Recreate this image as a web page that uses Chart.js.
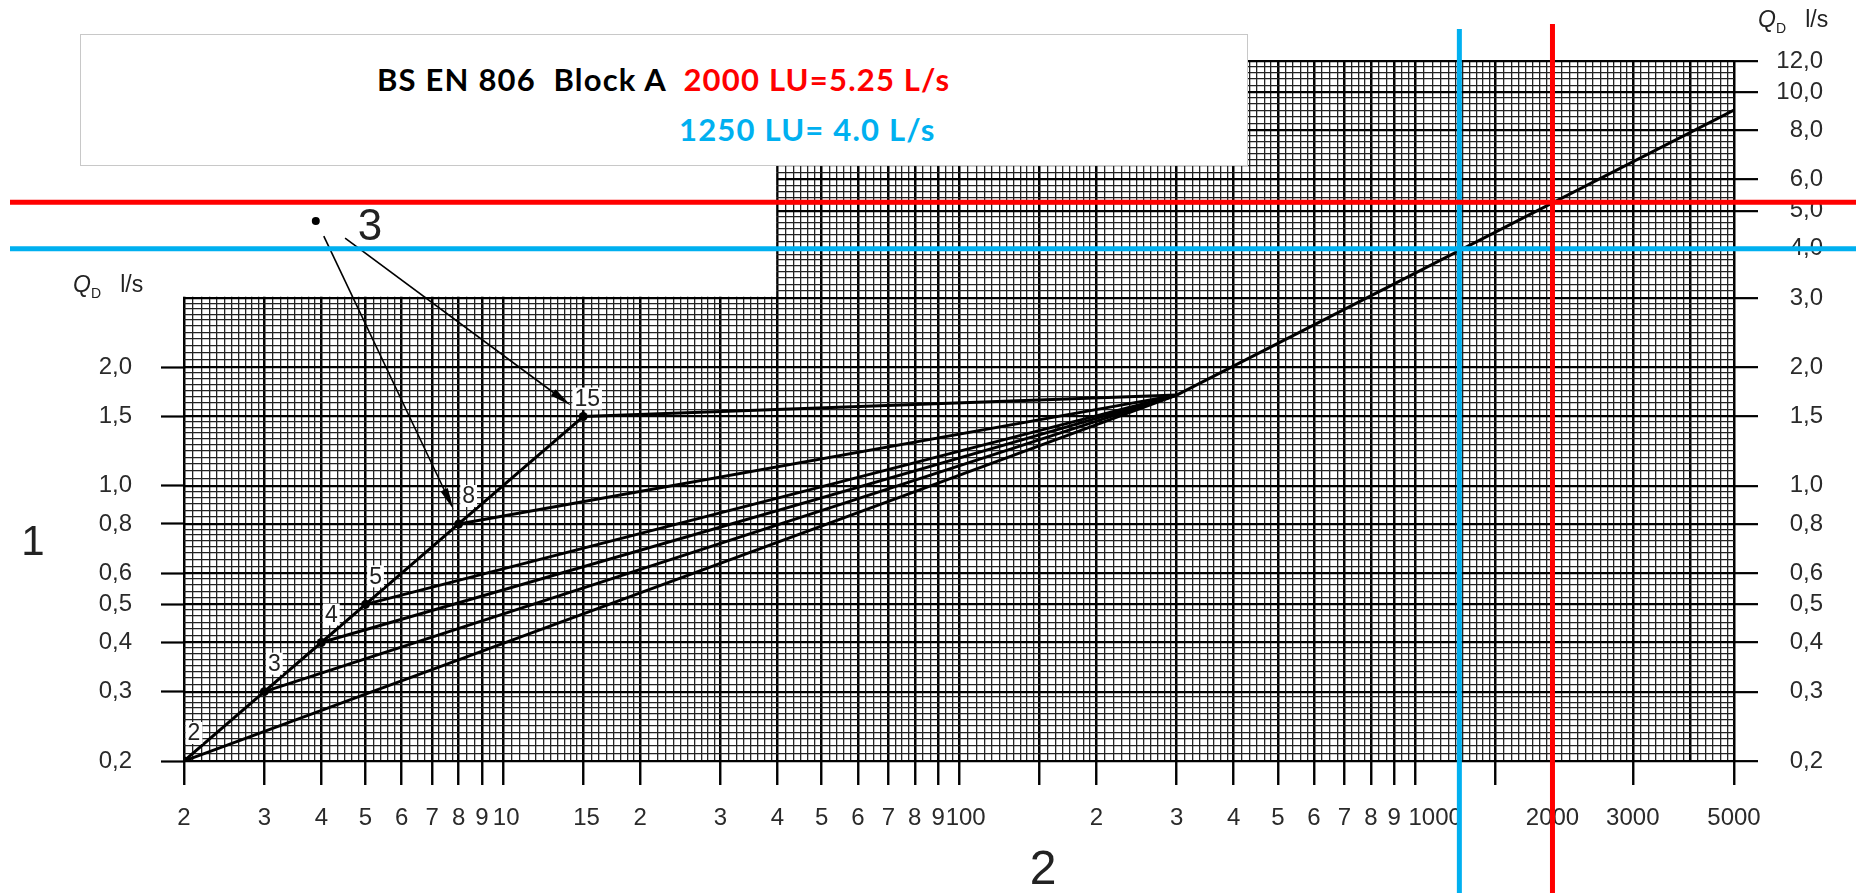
<!DOCTYPE html>
<html>
<head>
<meta charset="utf-8">
<script src="https://cdn.jsdelivr.net/npm/chart.js@4.4.1/dist/chart.umd.min.js"></script>
<style>
  html, body { margin: 0; padding: 0; background: #fff; }
  #wrap { position: relative; width: 1865px; height: 893px; overflow: hidden; }
  #chart { position: absolute; left: 0; top: 0; }
  .note { position: absolute; font-family: 'Liberation Sans', Arial, sans-serif; color: #222; white-space: pre; line-height: 1; }
  .big { transform: translate(-50%, -50%); }
  #titleBox { position: absolute; left: 80px; top: 34px; width: 1166px; height: 130px; background: #fff; border: 1.5px solid #c8c8c8; }
  .tline { position: absolute; font-family: Lato, 'Open Sans', sans-serif; font-weight: 700; font-size: 31px; letter-spacing: 1.2px; white-space: pre; line-height: 1; }
</style>
</head>
<body>
<div id="wrap">
  <canvas id="chart" width="1865" height="893"></canvas>
  <div id="titleBox">
    <div class="tline" style="left:296px; top:29px; color:#000">BS EN 806  Block A  <span style="color:#ff0000">2000 LU=5.25 L/s</span></div>
    <div class="tline" style="left:598px; top:79px; color:#00b0f0">1250 LU= 4.0 L/s</div>
  </div>
  <div class="note" style="left:73px; top:273px; font-size:23px"><i>Q</i><span style="font-size:14px; position:relative; top:6px">D</span>   l/s</div>
  <div class="note" style="left:1758px; top:8px; font-size:23px"><i>Q</i><span style="font-size:14px; position:relative; top:6px">D</span>   l/s</div>
  <div class="note big" style="left:370px; top:225px; font-size:44px">3</div>
  <div class="note big" style="left:33px; top:541px; font-size:42px">1</div>
  <div class="note big" style="left:1043px; top:868px; font-size:48px">2</div>
</div>
<script>
// points on the single-outlet line (LU, l/s) and where all the branches meet
const outletCounts = [2, 3, 4, 5, 8, 15];
const outletFlows = [0.2, 0.3, 0.4, 0.5, 0.8, 1.5];
const mergeLU = 300;
const mergeFlow = 1.7;
const tailLU = [300, 5000];
const tailFlow = [1.7, 9.0];

// design lines drawn over the chart
const refLU = [1250, 2000];
const refFlow = [4.0, 5.25];
const refColors = ['#00b0f0', '#ff0000'];

// pointer "3" and its two arrows
const pointerDot = [3.89, 4.71];
const pointerFromLU = [4.05, 4.51];
const pointerFromFlow = [4.31, 4.26];
const pointerToLU = [7.8, 14.1];
const pointerToFlow = [0.87, 1.6];

// axis ticks
const xTickValues = [2, 3, 4, 5, 6, 7, 8, 9, 10, 15, 20, 30, 40, 50, 60, 70, 80, 90, 100,
  200, 300, 400, 500, 600, 700, 800, 900, 1000, 2000, 3000, 5000];
const xTickLabels = ['2', '3', '4', '5', '6', '7', '8', '9', '10', '15', '2', '3', '4', '5', '6', '7', '8', '9', '100',
  '2', '3', '4', '5', '6', '7', '8', '9', '1000', '2000', '3000', '5000'];
const xMarkOnly = [150, 1500];
const xGridMajor = [2, 3, 4, 5, 6, 7, 8, 9, 10, 15, 20, 30, 40, 50, 60, 70, 80, 90, 100, 150,
  200, 300, 400, 500, 600, 700, 800, 900, 1000, 1500, 2000, 3000, 4000, 5000];
const yTickValues = [0.2, 0.3, 0.4, 0.5, 0.6, 0.8, 1, 1.5, 2, 3, 4, 5, 6, 8, 10, 12];
const yTickLabels = ['0,2', '0,3', '0,4', '0,5', '0,6', '0,8', '1,0', '1,5', '2,0', '3,0', '4,0', '5,0', '6,0', '8,0', '10,0', '12,0'];
const yLeftMax = 2;

// the left part of the grid paper stops at 40 LU / 3.0 l/s
const lowerGridLU = 40;
const lowerGridFlow = 3;

const xLabelMap = new Map(xTickValues.map((v, i) => [v, xTickLabels[i]]));
const yLabelMap = new Map(yTickValues.map((v, i) => [v, yTickLabels[i]]));
const xMarks = new Set(xTickValues.concat(xMarkOnly));
// a couple of labels sit a little right of their tick in the original
const xLabelShift = { 10: 1, 15: 1, 100: 2, 1000: 6 };

const tickFont = { family: "'Liberation Sans', Arial, sans-serif", size: 24 };
const tickColor = '#2a2a2a';

function gridTicks(majors, perDecade) {
  const out = [];
  for (let i = 0; i < majors.length; i++) {
    out.push({ value: majors[i], major: true });
    if (i === majors.length - 1) break;
    const a = majors[i], b = majors[i + 1];
    const n = Math.max(1, Math.round(Math.log10(b / a) * perDecade));
    for (let k = 1; k < n; k++) out.push({ value: a + (b - a) * k / n, major: false });
  }
  return out;
}

const isMajor = c => !!(c.tick && c.tick.major);

const datasets = [];
datasets.push({
  data: outletCounts.map((v, i) => ({ x: v, y: outletFlows[i] })),
  pointRadius: 4.5, pointBackgroundColor: '#000', pointBorderWidth: 0
});
outletCounts.forEach((v, i) => {
  datasets.push({ data: [{ x: v, y: outletFlows[i] }, { x: mergeLU, y: mergeFlow }], pointRadius: 0 });
});
datasets.push({ data: tailLU.map((v, i) => ({ x: v, y: tailFlow[i] })), pointRadius: 0 });
datasets.forEach(d => {
  d.borderColor = '#000';
  d.borderWidth = 3;
  d.tension = 0;
  d.fill = false;
  d.xAxisID = 'x';
  d.yAxisID = 'y';
});

function arrow(ctx, x1, y1, x2, y2) {
  const ang = Math.atan2(y2 - y1, x2 - x1);
  const len = 22, half = 4;
  ctx.beginPath();
  ctx.moveTo(x1, y1);
  ctx.lineTo(x2 - Math.cos(ang) * len * 0.8, y2 - Math.sin(ang) * len * 0.8);
  ctx.stroke();
  ctx.beginPath();
  ctx.moveTo(x2, y2);
  ctx.lineTo(x2 - Math.cos(ang) * len - Math.sin(ang) * half, y2 - Math.sin(ang) * len + Math.cos(ang) * half);
  ctx.lineTo(x2 - Math.cos(ang) * len + Math.sin(ang) * half, y2 - Math.sin(ang) * len - Math.cos(ang) * half);
  ctx.closePath();
  ctx.fill();
}

const paperPlugin = {
  id: 'paper',
  beforeDatasetsDraw(chart) {
    // blank the upper-left part where the grid paper is cut away
    const { ctx, chartArea, scales } = chart;
    const x40 = scales.x.getPixelForValue(lowerGridLU);
    const y3 = scales.y.getPixelForValue(lowerGridFlow);
    ctx.save();
    ctx.fillStyle = '#fff';
    ctx.fillRect(chartArea.left - 4, chartArea.top - 4, x40 - 1.3 - chartArea.left + 4, y3 - 1.3 - chartArea.top + 4);
    ctx.restore();
  },
  afterDatasetsDraw(chart) {
    const { ctx, scales } = chart;
    const sx = scales.x, sy = scales.y;
    ctx.save();
    // node numbers on white patches
    ctx.font = "23px 'Liberation Sans', Arial, sans-serif";
    ctx.textAlign = 'center';
    ctx.textBaseline = 'middle';
    outletCounts.forEach((v, i) => {
      const px = sx.getPixelForValue(v);
      const py = sy.getPixelForValue(outletFlows[i]);
      const off = v === 15 ? [4, -18] : [10, -28];
      const txt = String(v);
      const w = ctx.measureText(txt).width;
      ctx.fillStyle = '#fff';
      ctx.fillRect(px + off[0] - w / 2 - 2, py + off[1] - 11, w + 4, 22);
      ctx.fillStyle = '#222';
      ctx.fillText(txt, px + off[0], py + off[1] + 1);
    });
    // pointer "3"
    ctx.fillStyle = '#000';
    ctx.strokeStyle = '#000';
    ctx.lineWidth = 1.6;
    ctx.beginPath();
    ctx.arc(sx.getPixelForValue(pointerDot[0]), sy.getPixelForValue(pointerDot[1]), 4, 0, Math.PI * 2);
    ctx.fill();
    pointerFromLU.forEach((v, i) => {
      arrow(ctx,
        sx.getPixelForValue(v), sy.getPixelForValue(pointerFromFlow[i]),
        sx.getPixelForValue(pointerToLU[i]), sy.getPixelForValue(pointerToFlow[i]));
    });
    ctx.restore();
  },
  afterDraw(chart) {
    const { ctx, scales, width, height } = chart;
    const tops = [29, 24];
    ctx.save();
    ctx.lineWidth = 5;
    refLU.forEach((v, i) => {
      ctx.strokeStyle = refColors[i];
      const px = scales.x.getPixelForValue(v);
      const py = scales.y.getPixelForValue(refFlow[i]);
      ctx.beginPath();
      ctx.moveTo(10, py);
      ctx.lineTo(width - 9, py);
      ctx.moveTo(px, tops[i]);
      ctx.lineTo(px, height);
      ctx.stroke();
    });
    ctx.restore();
  }
};

new Chart(document.getElementById('chart'), {
  type: 'line',
  data: { datasets },
  options: {
    responsive: false,
    animation: false,
    devicePixelRatio: 1,
    layout: { padding: { top: 61, left: 0, right: 42, bottom: 0 } },
    plugins: { legend: { display: false }, tooltip: { enabled: false } },
    scales: {
      x: {
        type: 'logarithmic', position: 'bottom', min: 2, max: 5000,
        afterBuildTicks: s => { s.ticks = gridTicks(xGridMajor, 62); },
        afterFit: s => { s.height = 132; },
        border: { display: false },
        grid: {
          color: c => isMajor(c) ? '#000' : '#222',
          lineWidth: c => isMajor(c) ? 2.5 : 1.3,
          tickLength: 24,
          tickColor: '#000',
          tickWidth: c => (c.tick && xMarks.has(c.tick.value)) ? 2.4 : 0
        },
        ticks: {
          autoSkip: false, maxRotation: 0, minRotation: 0, padding: 19,
          font: tickFont, color: tickColor,
          callback: v => {
            const l = xLabelMap.get(v);
            if (!l) return '';
            return ' '.repeat(xLabelShift[v] || 0) + l;
          }
        }
      },
      y: {
        type: 'logarithmic', position: 'right', min: 0.2, max: 12,
        afterBuildTicks: s => { s.ticks = gridTicks(yTickValues, 64); },
        afterFit: s => { s.width = 89; },
        border: { display: false },
        grid: {
          color: c => isMajor(c) ? '#000' : '#222',
          lineWidth: c => isMajor(c) ? 2.3 : 1.3,
          tickLength: 24,
          tickColor: '#000',
          tickWidth: c => isMajor(c) ? 2.2 : 0
        },
        ticks: {
          autoSkip: false, crossAlign: 'far', padding: 18,
          font: tickFont, color: tickColor,
          callback: v => yLabelMap.get(v) || ''
        }
      },
      yL: {
        type: 'logarithmic', position: 'left', min: 0.2, max: 12,
        afterBuildTicks: s => { s.ticks = yTickValues.filter(v => v <= yLeftMax).map(v => ({ value: v, major: true })); },
        afterFit: s => { s.width = 184; },
        border: { display: false },
        grid: { drawOnChartArea: false, tickLength: 23, tickColor: '#000', tickWidth: 2.2 },
        ticks: {
          autoSkip: false, padding: 29,
          font: tickFont, color: tickColor,
          callback: v => yLabelMap.get(v) || ''
        }
      }
    }
  },
  plugins: [paperPlugin]
});
</script>
</body>
</html>
